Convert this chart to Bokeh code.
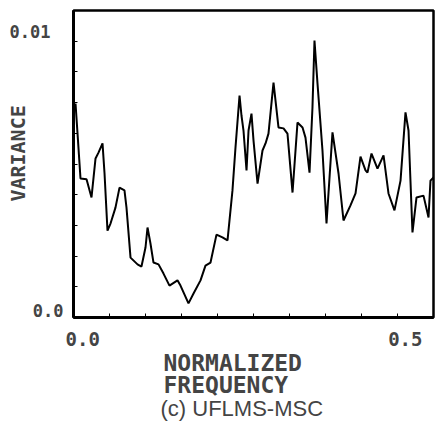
from bokeh.plotting import figure
from bokeh.models import Range1d, FixedTicker, Label
from bokeh.layouts import row, column
from bokeh.embed import file_html
from bokeh.resources import INLINE
import math

# ---- data ----
freq = [0.0028, 0.0056, 0.0097, 0.0181, 0.0250, 0.0306, 0.0347, 0.0403, 0.0431, 0.0472,
        0.0514, 0.0583, 0.0639, 0.0708, 0.0736, 0.0792, 0.0889, 0.0944, 0.1000, 0.1028,
        0.1069, 0.1111, 0.1181, 0.1250, 0.1333, 0.1444, 0.1486, 0.1597, 0.1667, 0.1764,
        0.1833, 0.1903, 0.1986, 0.2069, 0.2139, 0.2208, 0.2250, 0.2306, 0.2333, 0.2361,
        0.2403, 0.2431, 0.2472, 0.2500, 0.2556, 0.2625, 0.2667, 0.2708, 0.2778, 0.2847,
        0.2917, 0.2972, 0.3042, 0.3111, 0.3181, 0.3222, 0.3278, 0.3319, 0.3347, 0.3389,
        0.3458, 0.3514, 0.3597, 0.3681, 0.3750, 0.3847, 0.3917, 0.3986, 0.4056, 0.4083,
        0.4139, 0.4222, 0.4306, 0.4375, 0.4458, 0.4542, 0.4611, 0.4653, 0.4708, 0.4764,
        0.4861, 0.4931, 0.4958, 0.5000]
variance_e3 = [6.97, 5.99, 4.53, 4.50, 3.91, 5.18, 5.37, 5.67, 4.69, 2.83,
               3.06, 3.58, 4.23, 4.14, 3.58, 1.95, 1.73, 1.66, 2.28, 2.93,
               2.41, 1.79, 1.73, 1.43, 1.04, 1.21, 1.04, 0.46, 0.78, 1.21,
               1.69, 1.79, 2.70, 2.61, 2.51, 4.14, 5.54, 7.23, 6.58, 6.09,
               4.79, 6.09, 6.64, 5.77, 4.36, 5.44, 5.67, 5.99, 7.65, 6.19,
               6.16, 5.99, 4.07, 6.35, 6.19, 5.86, 4.72, 6.84, 9.02, 7.62,
               5.44, 3.06, 6.03, 4.69, 3.16, 3.65, 4.04, 5.24, 4.79, 4.72,
               5.34, 4.85, 5.28, 4.04, 3.49, 4.46, 6.68, 6.09, 2.77, 3.91,
               3.97, 3.26, 4.46, 4.56]
variance = [v * 1e-3 for v in variance_e3]

x_tick_labels = ["0.0", "0.5"]
y_tick_labels = ["0.0", "0.01"]
x_ticks = [0.05, 0.10, 0.15, 0.20, 0.25, 0.30, 0.35, 0.40, 0.45]
y_ticks = [0.001, 0.002, 0.003, 0.004, 0.005, 0.006, 0.007, 0.008, 0.009]

x_title_lines = ["NORMALIZED", "FREQUENCY"]
y_title = "VARIANCE"
caption = "(c) UFLMS-MSC"

MONO = "DejaVu Sans Mono"
W, H = 435, 433
LEFT_W = 71          # width of the left text strip
TOP_H = 320          # height of the upper row


def text_fig(w, h):
    f = figure(width=w, height=h, x_range=Range1d(0, w), y_range=Range1d(h, 0),
               output_backend="svg", toolbar_location=None,
               x_axis_location=None, y_axis_location=None,
               min_border=0, min_border_left=0, min_border_right=0,
               min_border_top=0, min_border_bottom=0)
    f.xgrid.visible = False
    f.ygrid.visible = False
    f.outline_line_color = None
    f.background_fill_color = "white"
    f.border_fill_color = "white"
    return f


# ---- main plot ----
p = figure(width=W - LEFT_W, height=TOP_H, x_range=Range1d(0, 0.5), y_range=Range1d(0, 0.01),
           output_backend="svg", toolbar_location=None,
           min_border_left=2, min_border_right=2, min_border_top=10, min_border_bottom=3)
p.xgrid.visible = False
p.ygrid.visible = False
p.outline_line_color = "black"
p.outline_line_width = 2.5
p.background_fill_color = "white"
p.border_fill_color = "white"

for ax, ticks in ((p.xaxis[0], x_ticks), (p.yaxis[0], y_ticks)):
    ax.ticker = FixedTicker(ticks=ticks)
    ax.axis_line_color = "black"
    ax.axis_line_width = 3
    ax.major_tick_in = 4
    ax.major_tick_out = 0
    ax.major_tick_line_width = 1
    ax.minor_tick_line_color = None
    ax.major_label_standoff = 0
    ax.major_label_text_font_size = "0px"
    ax.major_label_text_color = None

p.line(freq, variance, line_color="black", line_width=2)

# ---- left strip: y tick labels and title ----
lf = text_fig(LEFT_W, TOP_H)
lf.add_layout(Label(x=50, y=22, text=y_tick_labels[1], text_font=MONO, text_font_size="17px",
                    text_font_style="bold", text_align="right", text_baseline="middle"))
lf.add_layout(Label(x=63, y=313, text=y_tick_labels[0], text_font=MONO, text_font_size="17px",
                    text_font_style="bold", text_align="right", text_baseline="middle"))
lf.add_layout(Label(x=17, y=149, text=y_title, angle=math.pi / 2, text_font=MONO,
                    text_font_size="20px", text_font_style="bold",
                    text_align="center", text_baseline="middle"))

# ---- bottom strip: x tick labels, title and caption ----
bf = text_fig(W, H - TOP_H)
bf.add_layout(Label(x=65, y=18, text=x_tick_labels[0], text_font=MONO, text_font_size="19px",
                    text_font_style="bold", text_align="left", text_baseline="middle"))
bf.add_layout(Label(x=422, y=18, text=x_tick_labels[1], text_font=MONO, text_font_size="19px",
                    text_font_style="bold", text_align="right", text_baseline="middle"))
bf.add_layout(Label(x=163, y=42, text=x_title_lines[0], text_font=MONO, text_font_size="23px",
                    text_font_style="bold", text_align="left", text_baseline="middle"))
bf.add_layout(Label(x=163, y=64, text=x_title_lines[1], text_font=MONO, text_font_size="23px",
                    text_font_style="bold", text_align="left", text_baseline="middle"))
bf.add_layout(Label(x=160, y=88, text=caption, text_font="Liberation Sans",
                    text_font_size="22px", text_align="left", text_baseline="middle"))

layout = column(row(lf, p, spacing=0), bf, spacing=0)

open("out.html", "w").write(file_html(layout, INLINE))
